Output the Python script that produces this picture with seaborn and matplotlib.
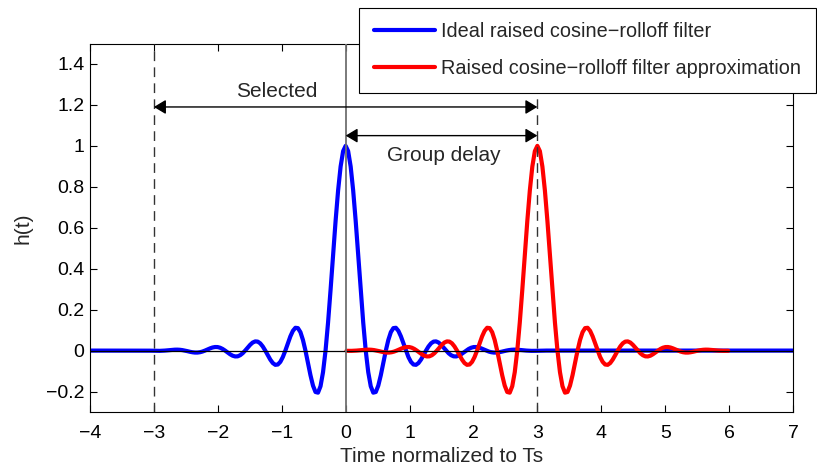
import numpy as np
import pandas as pd
import matplotlib
matplotlib.use("Agg")
import matplotlib.pyplot as plt
import seaborn as sns

# ---- data ----
pulse_step = 0.0393          # spacing of the read samples (time normalized to Ts)
blue_center, red_center = 0.0, 3.0
blue_start, blue_end = -4.0, 7.0   # blue stays at zero out to the axis edges

# ideal raised cosine-rolloff filter, samples around its peak
blue_values = [
    0.0, -0.0001, -0.0004, -0.0007, -0.0011, -0.0013, -0.0013, -0.0008,
    0.0, 0.0011, 0.0024, 0.0036, 0.0044, 0.0046, 0.0039, 0.0023,
    0.0, -0.0028, -0.0058, -0.0082, -0.0097, -0.0097, -0.0080, -0.0047,
    0.0, 0.0054, 0.0107, 0.0150, 0.0174, 0.0172, 0.0140, 0.0081,
    0.0, -0.0092, -0.0180, -0.0250, -0.0286, -0.0281, -0.0227, -0.0130,
    0.0, 0.0146, 0.0284, 0.0394, 0.0449, 0.0438, 0.0354, 0.0202,
    0.0, -0.0226, -0.0441, -0.0609, -0.0696, -0.0680, -0.0551, -0.0316,
    0.0, 0.0354, 0.0696, 0.0964, 0.1114, 0.1097, 0.0901, 0.0521,
    0.0, -0.0603, -0.1205, -0.1711, -0.2023, -0.2055, -0.1742, -0.1054,
    0.0, 0.1370, 0.2966, 0.4667, 0.6333, 0.7819, 0.8991, 0.9742,
    1.0,
    0.9742, 0.8991, 0.7819, 0.6333, 0.4667, 0.2966, 0.1370, 0.0,
    -0.1054, -0.1742, -0.2055, -0.2023, -0.1711, -0.1205, -0.0603, 0.0,
    0.0521, 0.0901, 0.1097, 0.1114, 0.0964, 0.0696, 0.0354, 0.0,
    -0.0316, -0.0551, -0.0680, -0.0696, -0.0609, -0.0441, -0.0226, 0.0,
    0.0202, 0.0354, 0.0438, 0.0449, 0.0394, 0.0284, 0.0146, 0.0,
    -0.0130, -0.0227, -0.0281, -0.0286, -0.0250, -0.0180, -0.0092, 0.0,
    0.0081, 0.0140, 0.0172, 0.0174, 0.0150, 0.0107, 0.0054, 0.0,
    -0.0047, -0.0080, -0.0097, -0.0097, -0.0082, -0.0058, -0.0028, 0.0,
    0.0023, 0.0039, 0.0046, 0.0044, 0.0036, 0.0024, 0.0011, 0.0,
    -0.0008, -0.0013, -0.0013, -0.0011, -0.0007, -0.0004, -0.0001, 0.0,
]

# truncated, delayed approximation (t = 0 ... 6)
red_values = [
    -0.0011, -0.0013, -0.0013, -0.0008,
    0.0, 0.0011, 0.0024, 0.0036, 0.0044, 0.0046, 0.0039, 0.0023,
    0.0, -0.0028, -0.0058, -0.0082, -0.0097, -0.0097, -0.0080, -0.0047,
    0.0, 0.0054, 0.0107, 0.0150, 0.0174, 0.0172, 0.0140, 0.0081,
    0.0, -0.0092, -0.0180, -0.0250, -0.0286, -0.0281, -0.0227, -0.0130,
    0.0, 0.0146, 0.0284, 0.0394, 0.0449, 0.0438, 0.0354, 0.0202,
    0.0, -0.0226, -0.0441, -0.0609, -0.0696, -0.0680, -0.0551, -0.0316,
    0.0, 0.0354, 0.0696, 0.0964, 0.1114, 0.1097, 0.0901, 0.0521,
    0.0, -0.0603, -0.1205, -0.1711, -0.2023, -0.2055, -0.1742, -0.1054,
    0.0, 0.1370, 0.2966, 0.4667, 0.6333, 0.7819, 0.8991, 0.9742,
    1.0,
    0.9742, 0.8991, 0.7819, 0.6333, 0.4667, 0.2966, 0.1370, 0.0,
    -0.1054, -0.1742, -0.2055, -0.2023, -0.1711, -0.1205, -0.0603, 0.0,
    0.0521, 0.0901, 0.1097, 0.1114, 0.0964, 0.0696, 0.0354, 0.0,
    -0.0316, -0.0551, -0.0680, -0.0696, -0.0609, -0.0441, -0.0226, 0.0,
    0.0202, 0.0354, 0.0438, 0.0449, 0.0394, 0.0284, 0.0146, 0.0,
    -0.0130, -0.0227, -0.0281, -0.0286, -0.0250, -0.0180, -0.0092, 0.0,
    0.0081, 0.0140, 0.0172, 0.0174, 0.0150, 0.0107, 0.0054, 0.0,
    -0.0047, -0.0080, -0.0097, -0.0097, -0.0082, -0.0058, -0.0028, 0.0,
    0.0023, 0.0039, 0.0046, 0.0044, 0.0036, 0.0024, 0.0011, 0.0,
    -0.0008, -0.0013, -0.0013, -0.0011,
]

x_ticks = [-4, -3, -2, -1, 0, 1, 2, 3, 4, 5, 6, 7]
y_ticks = [-0.2, 0, 0.2, 0.4, 0.6, 0.8, 1, 1.2, 1.4]
y_tick_labels = ["\u22120.2", "0", "0.2", "0.4", "0.6", "0.8", "1", "1.2", "1.4"]
x_tick_labels = ["\u22124", "\u22123", "\u22122", "\u22121", "0", "1", "2", "3", "4", "5", "6", "7"]
series_names = ["Ideal raised cosine\u2212rolloff filter",
                "Raised cosine\u2212rolloff filter approximation"]

# ---- build tables ----
nb = (len(blue_values) - 1) // 2
nr = (len(red_values) - 1) // 2
blue_t = [blue_start] + [blue_center + k * pulse_step for k in range(-nb, nb + 1)] + [blue_end]
blue_y = [0.0] + blue_values + [0.0]
red_t = [red_center + k * pulse_step for k in range(-nr, nr + 1)]
df_blue = pd.DataFrame({"t": blue_t, "h": blue_y})
df_red = pd.DataFrame({"t": red_t, "h": red_values})

sns.set_style("ticks")
plt.rcParams["font.family"] = ["Liberation Sans", "DejaVu Sans"]
FS_TICK = 14
FS_TEXT = 15
FS_LEGEND = 14.3

fig = plt.figure(figsize=(8.17, 4.67), dpi=100)
ax = fig.add_axes([90 / 817, 1 - 412 / 467, (793 - 90) / 817, (412 - 43.5) / 467])

sns.lineplot(data=df_blue, x="t", y="h", ax=ax, color=(0, 0, 1), linewidth=3,
             estimator=None, sort=False, label=series_names[0], zorder=2)
sns.lineplot(data=df_red, x="t", y="h", ax=ax, color=(1, 0, 0), linewidth=3,
             estimator=None, sort=False, label=series_names[1], zorder=3)

ax.set_xlim(-4, 7)
ax.set_ylim(-0.3, 1.5)

# reference lines
ax.axhline(0, color="black", linewidth=0.9, zorder=4)
ax.axvline(0, color="#707070", linewidth=1.3, zorder=4)
ax.axvline(-3, color="#333333", linewidth=1.0, linestyle=(0, (7, 4.5)), zorder=4)
ax.axvline(3, color="#333333", linewidth=1.0, linestyle=(0, (7, 4.5)), zorder=4)

# double arrows
arrow_kw = dict(arrowstyle="<|-|>,head_length=0.4,head_width=0.24",
                color="black", lw=1.0, mutation_scale=18, shrinkA=0, shrinkB=0)
ax.annotate("", xy=(-3, 1.19), xytext=(3, 1.19), arrowprops=arrow_kw, zorder=5)
ax.annotate("", xy=(0, 1.05), xytext=(3, 1.05), arrowprops=arrow_kw, zorder=5)
ax.text(-1.08, 1.265, "Selected", ha="center", va="center", fontsize=FS_TEXT)
ax.text(1.54, 0.953, "Group delay", ha="center", va="center", fontsize=FS_TEXT)

ax.set_xticks(x_ticks)
ax.set_xticklabels(x_tick_labels)
ax.set_yticks(y_ticks)
ax.set_yticklabels(y_tick_labels)
ax.tick_params(direction="in", top=True, right=True, length=5, width=0.8,
               labelsize=FS_TICK, colors="black")
ax.tick_params(axis="x", pad=9)
ax.tick_params(axis="y", pad=4)
for s in ax.spines.values():
    s.set_visible(True)
    s.set_color("black")
    s.set_linewidth(0.8)

ax.set_xlabel("Time normalized to Ts", fontsize=FS_TEXT, labelpad=4)
ax.set_ylabel("h(t)", fontsize=FS_TEXT, labelpad=10)

handles, labels = ax.get_legend_handles_labels()
if ax.legend_ is not None:
    ax.legend_.remove()
leg = fig.legend(handles, labels, loc="upper left",
                 bbox_to_anchor=(359 / 817, 1 - 7.5 / 467),
                 bbox_transform=fig.transFigure,
                 frameon=True, fancybox=False, framealpha=1,
                 edgecolor="black", fontsize=FS_LEGEND, handlelength=3.1,
                 handletextpad=0.3, borderpad=0.75, labelspacing=0.9,
                 borderaxespad=0)
leg.get_frame().set_linewidth(0.8)

fig.savefig("out.png", dpi=100)
